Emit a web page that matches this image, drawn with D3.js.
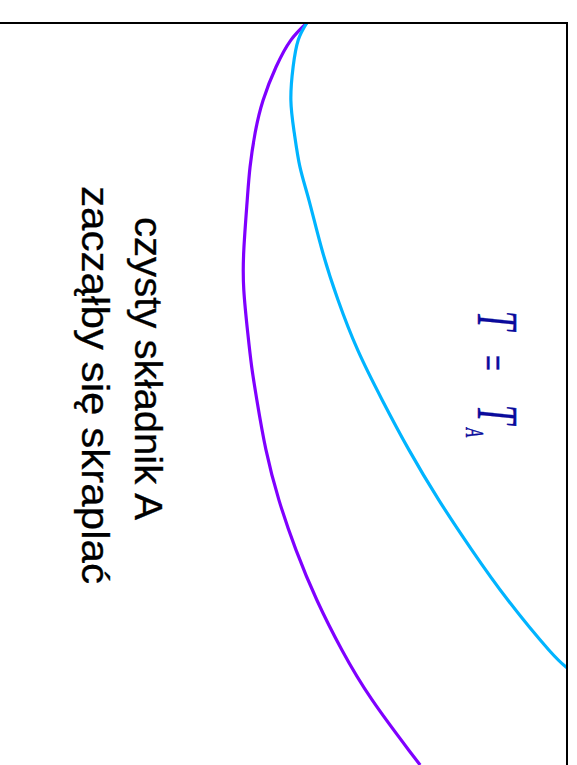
<!DOCTYPE html>
<html>
<head>
<meta charset="utf-8">
<script src="https://cdn.jsdelivr.net/npm/d3@7"></script>
<style>
  body { margin: 0; background: #fff; }
  svg { display: block; }
</style>
</head>
<body>
<div id="chart"></div>
<script>
// Page size
const width = 577;
const height = 765;

// Composition (runs down the page) and temperature (runs to the right), both scaled 0..1
const compPurple = [0.000, 0.023, 0.059, 0.104, 0.148, 0.194, 0.239, 0.306, 0.360, 0.418,
                    0.464, 0.508, 0.575, 0.643, 0.710, 0.778, 0.845, 0.912, 0.980, 1.000];
const tempPurple = [0.541, 0.513, 0.487, 0.464, 0.450, 0.441, 0.436, 0.430, 0.430, 0.437,
                    0.444, 0.453, 0.469, 0.492, 0.522, 0.559, 0.603, 0.656, 0.721, 0.741];

const compBlue = [0.000, 0.023, 0.059, 0.104, 0.148, 0.194, 0.239, 0.306, 0.373,
                  0.441, 0.508, 0.575, 0.643, 0.710, 0.778, 0.845, 0.869];
const tempBlue = [0.541, 0.526, 0.517, 0.513, 0.519, 0.529, 0.545, 0.568, 0.596,
                  0.631, 0.674, 0.721, 0.774, 0.832, 0.896, 0.968, 1.000];

// Labels
const labelLines = ["czysty składnik A", "zacząłby się skraplać"];

const svg = d3.select("#chart")
    .append("svg")
    .attr("width", width)
    .attr("height", height);

// Scales: temperature -> x, composition -> y (plot is turned on its side)
const x = d3.scaleLinear().domain([0, 1]).range([0, 567]);
const y = d3.scaleLinear().domain([0, 1]).range([23, 765]);

// clip to the frame
svg.append("clipPath")
    .attr("id", "frame-clip")
    .append("rect")
    .attr("x", x(-0.05))
    .attr("y", y(0))
    .attr("width", x(1) - x(-0.05))
    .attr("height", y(1.1) - y(0));

const line = d3.line()
    .x(d => x(d[1]))
    .y(d => y(d[0]))
    .curve(d3.curveNatural);

const plot = svg.append("g").attr("clip-path", "url(#frame-clip)");

plot.append("path")
    .datum(compPurple.map((c, i) => [c, tempPurple[i]]))
    .attr("d", line)
    .attr("fill", "none")
    .attr("stroke", "#7f00ff")
    .attr("stroke-width", 3.2);

plot.append("path")
    .datum(compBlue.map((c, i) => [c, tempBlue[i]]))
    .attr("d", line)
    .attr("fill", "none")
    .attr("stroke", "#00b4ff")
    .attr("stroke-width", 3.2);

// Frame (top and right edges visible)
svg.append("rect")
    .attr("x", x(-0.05))
    .attr("y", y(0))
    .attr("width", x(1) - x(-0.05))
    .attr("height", y(1.1) - y(0))
    .attr("fill", "none")
    .attr("stroke", "#000")
    .attr("stroke-width", 2);

// Rotated text block
const lines = [
    {text: labelLines[0], base: 135, start: 217, len: 303},
    {text: labelLines[1], base: 82, start: 186, len: 398}
];
lines.forEach(l => {
    svg.append("text")
        .attr("transform", `translate(${l.base},0) rotate(90)`)
        .attr("x", l.start)
        .attr("y", 0)
        .attr("textLength", l.len)
        .attr("lengthAdjust", "spacingAndGlyphs")
        .style("font-family", "'Liberation Sans', Arial, sans-serif")
        .style("font-size", "39px")
        .style("fill", "#000")
        .style("stroke", "#000")
        .style("stroke-width", 0.3)
        .text(l.text);
});

// T = T_A label, stretched italic serif
const tl = svg.append("g")
    .attr("transform", "translate(478,0) rotate(90) scale(1,1.65)")
    .style("font-family", "'Liberation Serif', 'Times New Roman', serif")
    .style("fill", "#0a0a9c")
    .style("stroke", "#0a0a9c")
    .style("stroke-width", 0.3);

tl.append("text").attr("x", 311).attr("y", 0)
    .style("font-size", "34px").style("font-style", "italic").text("T");
tl.append("text").attr("x", 355).attr("y", 0)
    .style("font-size", "28px").text("=");
tl.append("text").attr("x", 405).attr("y", 0)
    .style("font-size", "34px").style("font-style", "italic").text("T");
tl.append("text").attr("x", 428).attr("y", 7.3)
    .style("font-size", "15px").style("font-style", "italic").text("A");
</script>
</body>
</html>
